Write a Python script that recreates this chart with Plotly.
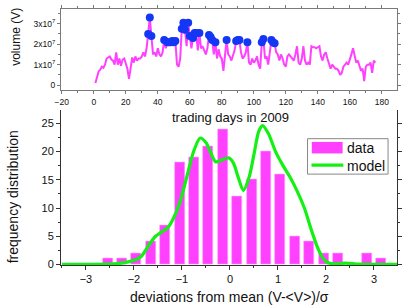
import plotly.graph_objects as go

# ---------------- data ----------------
# daily trading volume (units of 1e7), trading days 1..176 of 2009
volume_1e7 = [
    0.1, 0.4, 0.67, 0.75, 0.9, 0.85, 1.0, 1.3, 1.35, 1.4,
    1.25, 1.2, 1.0, 1.6, 1.0, 1.3, 0.95, 1.25, 1.3, 1.1,
    0.8, 0.3, 0.8, 1.35, 1.1, 1.4, 1.2, 1.3, 1.3, 1.4,
    1.6, 1.4, 1.8, 2.5, 3.3, 2.4, 1.5, 1.6, 1.4, 1.8,
    1.5, 1.4, 1.6, 2.2, 1.8, 2.1, 2.1, 2.1, 2.15, 2.1,
    2.15, 1.0, 0.9, 1.3, 2.75, 3.05, 2.7, 1.9, 3.05, 2.4,
    1.8, 2.3, 2.55, 2.55, 1.7, 2.55, 1.8, 1.9, 1.65, 1.5,
    1.8, 2.45, 2.35, 2.2, 1.5, 2.1, 1.3, 1.75, 1.4, 1.3,
    0.7, 1.6, 2.2, 1.5, 1.4, 1.2, 1.5, 1.7, 2.15, 2.2,
    2.2, 1.6, 1.3, 1.4, 1.6, 2.1, 1.1, 1.0, 1.3, 1.1,
    1.2, 1.4, 1.0, 0.8, 2.1, 2.25, 1.3, 1.4, 1.0, 1.5,
    2.2, 2.1, 2.05, 1.6, 1.5, 1.2, 1.5, 1.3, 1.0, 0.9,
    1.4, 1.5, 1.4, 1.3, 1.2, 1.5, 1.9, 1.1, 1.0, 1.3,
    1.9, 1.2, 1.0, 1.1, 1.0, 1.9, 1.85, 1.85, 1.8, 1.85,
    1.9, 1.4, 1.2, 1.5, 1.6, 1.3, 1.0, 0.8, 1.0, 0.9,
    0.8, 0.8, 0.7, 0.5, 0.6, 0.9, 1.0, 1.1, 1.0, 1.2,
    1.5, 1.8, 1.4, 1.1, 1.2, 0.9, 0.7, 0.8, 0.2, 0.9,
    1.0, 1.0, 1.1, 0.6, 1.2, 1.1,
]
days = list(range(1, len(volume_1e7) + 1))
high_threshold_1e7 = 2.0  # days highlighted with dots

# histogram of deviations from mean
bin_centers = [-2.55, -2.25, -1.95, -1.65, -1.35, -1.05, -0.75, -0.45, -0.15, 0.15,
               0.45, 0.75, 1.05, 1.35, 1.65, 1.95, 2.25, 2.55, 2.85, 3.15]
counts = [1, 1, 2, 4, 7, 18, 19, 21, 24, 12,
          15, 20, 16, 5, 4, 2, 2, 0, 2, 1]

# model curve
model_x = [-3.5, -3.0, -2.6, -2.3, -2.1, -1.95, -1.85, -1.7, -1.55, -1.45, -1.3, -1.2,
           -1.05, -0.9, -0.75, -0.62, -0.5, -0.4, -0.3, -0.17, -0.03, 0.07, 0.17, 0.28,
           0.4, 0.5, 0.6, 0.68, 0.8, 0.95, 1.1, 1.25, 1.4, 1.55, 1.7, 1.85, 2.0, 2.15,
           2.4, 2.7, 3.5]
model_y = [0, 0, 0.05, 0.2, 0.5, 0.9, 1.4, 3.3, 5.0, 5.6, 6.5, 7.8,
           10.8, 15.5, 20.2, 22.4, 21.6, 19.8, 18.2, 18.5, 18.9, 18.0, 15.5, 13.1,
           15.5, 19.5, 23.6, 24.6, 23.2, 20.0, 17.6, 15.5, 13.0, 10.0, 6.0, 2.5, 0.5, 0.1,
           0.25, 0.05, 0]

top_xticks = [-20, 0, 20, 40, 60, 80, 100, 120, 140, 160, 180]
top_yticks_1e7 = [0, 1, 2, 3]
top_yticklabels = ["0", "1x10<sup>7</sup>", "2x10<sup>7</sup>", "3x10<sup>7</sup>"]
bot_xticks = [-3, -2, -1, 0, 1, 2, 3]
bot_yticks = [0, 5, 10, 15, 20, 25]

# ---------------- figure ----------------
FONT = "Liberation Sans, Arial, sans-serif"
MAG = "#ff40ff"
GREEN = "#14f014"
BLUE = "#1436f5"

volume = [v * 1e7 for v in volume_1e7]
hi_days = [d for d, v in zip(days, volume_1e7) if v > high_threshold_1e7]
hi_vals = [v * 1e7 for v in volume_1e7 if v > high_threshold_1e7]

fig = go.Figure()
fig.add_trace(go.Scatter(x=days, y=volume, mode="lines",
                         line=dict(color=MAG, width=2), xaxis="x", yaxis="y",
                         showlegend=False))
fig.add_trace(go.Scatter(x=hi_days, y=hi_vals, mode="markers",
                         marker=dict(color=BLUE, size=8), xaxis="x", yaxis="y",
                         showlegend=False))
fig.add_trace(go.Bar(x=bin_centers, y=counts, width=0.21,
                     marker=dict(color=MAG, line=dict(color="#ff9cff", width=0.6)),
                     xaxis="x2", yaxis="y2", showlegend=False))
fig.add_trace(go.Scatter(x=model_x, y=model_y, mode="lines",
                         line=dict(color=GREEN, width=3.2, shape="spline", smoothing=0.8),
                         xaxis="x2", yaxis="y2", showlegend=False))

L, R, T, B = 61, 8, 5, 43
W, H = 407, 308
pw, ph = W - L - R, H - T - B


def px(x):
    return (x - L) / pw


def py(y):
    return (H - B - y) / ph


top_axis_color = "#7a7a7a"
bot_axis_color = "#333333"

fig.update_layout(
    width=W, height=H,
    margin=dict(l=L, r=R, t=T, b=B),
    paper_bgcolor="white", plot_bgcolor="white",
    font=dict(family=FONT, color="#111"),
    bargap=0,
    xaxis=dict(domain=[0, 1], anchor="y", range=[-20.5, 189.5],
               tickvals=top_xticks, ticks="outside", ticklen=3, tickcolor=top_axis_color,
               minor=dict(dtick=10, tick0=0, ticks="outside", ticklen=2, tickcolor=top_axis_color),
               showline=True, linecolor=top_axis_color, linewidth=1, mirror="ticks",
               showgrid=False, zeroline=False, tickfont=dict(size=8.5, family=FONT)),
    yaxis=dict(domain=[py(87.7), 1], anchor="x", range=[-0.26e7, 3.72e7],
               tickvals=[v * 1e7 for v in top_yticks_1e7], ticktext=top_yticklabels,
               ticks="outside", ticklen=3, tickcolor=top_axis_color,
               minor=dict(dtick=0.5e7, tick0=0, ticks="outside", ticklen=2, tickcolor=top_axis_color),
               showline=True, linecolor=top_axis_color, linewidth=1, mirror="ticks",
               showgrid=False, zeroline=False, tickfont=dict(size=8.5, family=FONT)),
    xaxis2=dict(domain=[0, 1], anchor="y2", range=[-3.52, 3.48],
                tickvals=bot_xticks, ticks="outside", ticklen=4, tickcolor=bot_axis_color,
                minor=dict(dtick=0.5, tick0=0, ticks="outside", ticklen=2, tickcolor=bot_axis_color),
                showline=True, linecolor=bot_axis_color, linewidth=1, mirror=False,
                showgrid=False, zeroline=False, tickfont=dict(size=11, family=FONT)),
    yaxis2=dict(domain=[0, py(108)], anchor="x2", range=[-0.1, 27.3],
                tickvals=bot_yticks, ticks="outside", ticklen=4, tickcolor=bot_axis_color,
                minor=dict(dtick=2.5, tick0=0, ticks="outside", ticklen=2, tickcolor=bot_axis_color),
                showline=True, linecolor=bot_axis_color, linewidth=1, mirror="ticks",
                showgrid=False, zeroline=False, tickfont=dict(size=11, family=FONT)),
)

ann = [
    dict(text="volume (V)", x=px(15), y=py(33), textangle=-90, font=dict(size=12)),
    dict(text="frequency distribution", x=px(13), y=py(196), textangle=-90, font=dict(size=14)),
    dict(text="deviations from mean (V-&lt;V&gt;)/σ", x=px(231), y=py(297), font=dict(size=14)),
    dict(text="trading days in 2009", x=px(232), y=py(115), font=dict(size=13)),
    dict(text="data", x=px(347), y=py(146), xanchor="left", font=dict(size=14)),
    dict(text="model", x=px(347), y=py(164), xanchor="left", font=dict(size=14)),
]
for a in ann:
    a.update(xref="paper", yref="paper", showarrow=False)
    a.setdefault("xanchor", "center")
    a["yanchor"] = "middle"
    a["font"]["family"] = FONT
    a["font"]["color"] = "#111"
fig.update_layout(annotations=ann)

fig.update_layout(shapes=[
    dict(type="rect", xref="paper", yref="paper", x0=px(309), x1=px(390), y0=py(172.7), y1=py(136.7),
         line=dict(color="#888", width=1), fillcolor="white", layer="above"),
    dict(type="rect", xref="paper", yref="paper", x0=px(313.3), x1=px(344.3), y0=py(151.7), y1=py(140),
         line=dict(width=0), fillcolor=MAG, layer="above"),
    dict(type="line", xref="paper", yref="paper", x0=px(313), x1=px(345), y0=py(163.5), y1=py(163.5),
         line=dict(color=GREEN, width=3.2), layer="above"),
])

fig.write_html("out.html",
               config={"displayModeBar": False},
               post_script="document.body.style.margin='0';document.body.style.padding='0';")
